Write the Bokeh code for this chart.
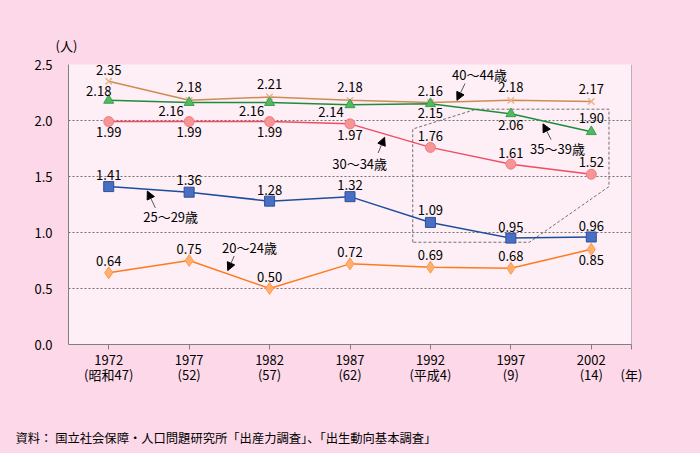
from bokeh.plotting import figure
from bokeh.models import (FixedTicker, Span, Label, Arrow, NormalHead, ColumnDataSource,
                          NumeralTickFormatter, Title)
from bokeh.embed import file_html
from bokeh.resources import INLINE
from bokeh.core.properties import value

# ---- data ----
years = ["1972", "1977", "1982", "1987", "1992", "1997", "2002"]
eras = ["(昭和47)", "(52)", "(57)", "(62)", "(平成4)", "(9)", "(14)"]
series_names = ["20～24歳", "25～29歳", "30～34歳", "35～39歳", "40～44歳"]
age_20_24 = [0.64, 0.75, 0.50, 0.72, 0.69, 0.68, 0.85]
age_25_29 = [1.41, 1.36, 1.28, 1.32, 1.09, 0.95, 0.96]
age_30_34 = [1.99, 1.99, 1.99, 1.97, 1.76, 1.61, 1.52]
age_35_39 = [2.18, 2.16, 2.16, 2.14, 2.15, 2.06, 1.90]
age_40_44 = [2.35, 2.18, 2.21, 2.18, 2.16, 2.18, 2.17]
y_ticks = [0.0, 0.5, 1.0, 1.5, 2.0, 2.5]
unit_y = "(人)"
unit_x = "(年)"
source_note = "資料： 国立社会保障・人口問題研究所「出産力調査」、「出生動向基本調査」"

# ---- label placement (pixels, screen: negative dy = up) ----
dx_20_24 = [0, 0, 0, 0, 0, 0, 0]
dy_20_24 = [-12, -12, -12, -12, -12, -12, 11]
dx_25_29 = [0, 0, 0, 0, 0, 0, 0]
dy_25_29 = [-12, -12, -11, -12, -12, -11, -11]
dx_30_34 = [0, 0, 0, 0, 0, 0, 0]
dy_30_34 = [10, 10, 10, 11, -11, -11, -12]
dx_35_39 = [-10, -18, -18, -19, 0, 0, 0]
dy_35_39 = [-9, 8, 8, 7, 9, 11, -14]
dx_40_44 = [0, 0, 0, 0, 0, 0, 0]
dy_40_44 = [-11, -13, -13, -13, -12, -13, -12]

FONT = "Noto Sans CJK JP"
FS = "13px"
PAGE_BG = "#FCD8E9"
PLOT_BG = "#FDEFF5"

xs = list(range(len(years)))

p = figure(width=700, height=453, output_backend="svg", toolbar_location=None,
           x_range=(-0.5, 6.5), y_range=(0, 2.5),
           min_border_left=68, min_border_right=69, min_border_top=64, min_border_bottom=107)
p.background_fill_color = PLOT_BG
p.border_fill_color = PAGE_BG
p.outline_line_color = None

# axes
p.xaxis.ticker = FixedTicker(ticks=xs + [6.5])
overrides = {i: f"{y}\n{e}" for i, (y, e) in enumerate(zip(years, eras))}
overrides[6.5] = " \n" + unit_x
p.xaxis.major_label_overrides = overrides
p.xaxis.axis_line_color = "#7F7F7F"
p.xaxis.major_tick_line_color = "#7F7F7F"
p.xaxis.major_tick_out = 5
p.xaxis.major_tick_in = 0
p.xaxis.minor_tick_line_color = None
p.xaxis.major_label_standoff = 0
p.xaxis.major_label_text_font = FONT
p.xaxis.major_label_text_font_size = FS
p.xaxis.major_label_text_line_height = 0.8
p.xaxis.major_label_text_color = "black"

p.yaxis.ticker = FixedTicker(ticks=y_ticks)
p.yaxis.formatter = NumeralTickFormatter(format="0.0")
p.yaxis.axis_line_color = "#7F7F7F"
p.yaxis.major_tick_line_color = None
p.yaxis.minor_tick_line_color = None
p.yaxis.major_label_standoff = 10
p.yaxis.major_label_text_font = FONT
p.yaxis.major_label_text_font_size = FS
p.yaxis.major_label_text_color = "black"

p.xgrid.grid_line_color = None
p.ygrid.grid_line_color = "#707070"
p.ygrid.grid_line_dash = "2 2"
p.ygrid.grid_line_width = 1

p.add_layout(Span(location=6.5, dimension="height", line_color="#7F7F7F", line_width=1))

# callout box (dashed)
p.patch([3.78, 3.78, 4.57, 6.22, 6.22, 5.23], [0.913, 1.924, 2.101, 2.101, 1.41, 0.913],
        fill_alpha=0, line_color="#707070", line_dash="3 2", line_width=1)

series = [
    (age_40_44, dx_40_44, dy_40_44, "#CD8C55", "x", "#EBB48C", "#EBB48C", 9),
    (age_35_39, dx_35_39, dy_35_39, "#1E8C3C", "triangle", "#52B862", "#3AA04E", 10),
    (age_30_34, dx_30_34, dy_30_34, "#F04C64", "circle", "#F79494", "#EE7C86", 10),
    (age_25_29, dx_25_29, dy_25_29, "#1D4E9E", "square", "#4A6FC0", "#2C50A0", 10),
    (age_20_24, dx_20_24, dy_20_24, "#FF7A1E", "diamond", "#FFB070", "#FF9A48", 12),
]

for vals, dx, dy, lc, mk, mf, ml, ms in series:
    src = ColumnDataSource(dict(x=xs, y=vals, t=[f"{v:.2f}" for v in vals], dx=dx, dy=dy))
    p.line("x", "y", source=src, line_color=lc, line_width=1.5)
    p.scatter("x", "y", source=src, marker=mk, size=ms, fill_color=mf, line_color=ml,
              line_width=1.5 if mk == "x" else 1)
    p.text("x", "y", text="t", source=src, x_offset="dx", y_offset="dy",
           text_align="center", text_baseline="middle", text_font=value(FONT),
           text_font_size=FS, text_color="black")

# series name labels with arrows
name_pos = [  # (label x, y, arrow tail x, y, arrow head x, y)
    (1.75, 0.87, 1.56, 0.79, 1.48, 0.66),
    (0.77, 1.14, 0.58, 1.22, 0.48, 1.37),
    (3.12, 1.62, 3.35, 1.71, 3.43, 1.85),
    (5.58, 1.75, 5.50, 1.83, 5.40, 1.97),
    (4.61, 2.41, 4.43, 2.33, 4.33, 2.18),
]
for name, (lx, ly, tx, ty, hx, hy) in zip(series_names, name_pos):
    p.add_layout(Label(x=lx, y=ly, text=name, text_align="center", text_baseline="middle",
                       text_font=FONT, text_font_size=FS, text_color="black"))
    p.add_layout(Arrow(x_start=tx, y_start=ty, x_end=hx, y_end=hy, line_color="#555555",
                       line_width=1, end=NormalHead(size=8, fill_color="black", line_color="black")))

# outside texts
p.add_layout(Title(text=unit_y, align="left", offset=-13, standoff=20,
                   text_font=FONT, text_font_size=FS, text_font_style="normal",
                   text_color="black"), "above")
# blank spacer title, then the source note
p.add_layout(Title(text=" ", align="left", standoff=14,
                   text_font=FONT, text_font_size="12px", text_font_style="normal"), "below")
p.add_layout(Title(text=source_note, align="left", offset=-53, standoff=14,
                   text_font=FONT, text_font_size="12.3px", text_font_style="normal",
                   text_color="black"), "below")

html = file_html(p, INLINE, title="chart")
html = html.replace("</head>", "<style>body{background:%s;}</style></head>" % PAGE_BG)
open("out.html", "w").write(html)
